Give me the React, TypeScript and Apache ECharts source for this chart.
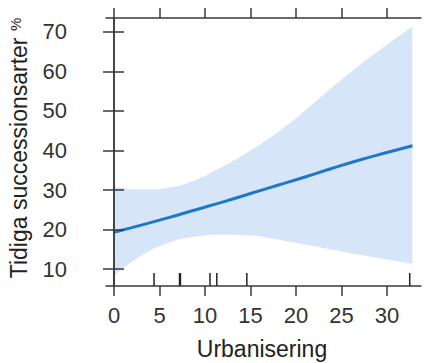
import React, { useEffect, useRef } from "react";
import * as echarts from "echarts";

// Data
const xValues = [0, 3, 6, 9, 12, 15, 18, 21, 24, 27, 30, 32.8];
const fitValues = [19.3, 21.1, 23.0, 25.0, 27.0, 29.1, 31.2, 33.3, 35.5, 37.6, 39.5, 41.2];
const upperValues = [30.9, 30.1, 30.6, 32.6, 36.0, 40.0, 44.6, 50.1, 56.0, 61.6, 66.8, 71.4];
const lowerValues = [8.2, 13.4, 16.6, 18.2, 18.7, 18.5, 17.5, 16.2, 14.9, 13.6, 12.4, 11.3];
const rugValues = [0, 4.4, 7.2, 7.3, 10.55, 11.3, 14.6, 32.5];
const xTicks = [0, 5, 10, 15, 20, 25, 30];
const yTicks = [10, 20, 30, 40, 50, 60, 70];

const X_MIN = -0.88;
const X_MAX = 33.74;
const Y_MIN = 5.7;
const Y_MAX = 73.54;

const FONT = "'Liberation Sans', Arial, Helvetica, sans-serif";
const AXIS_COLOR = "#3a3a3a";
const BAND = "#d6e6f8";
const LINE = "#1f77c9";

export default function App() {
  const ref = useRef<HTMLDivElement>(null);

  useEffect(() => {
    if (!ref.current) return;
    const chart = echarts.init(ref.current, undefined, { renderer: "svg" });

    const lowerData = xValues.map((x, i) => [x, lowerValues[i]]);
    const upperData = xValues.map((x, i) => [x, upperValues[i]]);
    const fitData = xValues.map((x, i) => [x, fitValues[i]]);
    const rugData = rugValues.map((x) => [x]);

    const axisLine = { show: true, lineStyle: { color: AXIS_COLOR, width: 1.5 } };
    const axisTickBase = { show: true, length: 10, lineStyle: { color: AXIS_COLOR, width: 1.5 } };

    chart.setOption({
      animation: false,
      backgroundColor: "#ffffff",
      grid: { left: 106, top: 18, right: 4, bottom: 77 },
      xAxis: [
        {
          type: "value",
          position: "bottom",
          min: X_MIN,
          max: X_MAX,
          z: 10,
          axisLine,
          axisTick: { ...axisTickBase, customValues: xTicks },
          axisLabel: {
            customValues: xTicks,
            color: "#333",
            fontSize: 22,
            fontFamily: FONT,
            margin: 18,
          },
          splitLine: { show: false },
        },
        {
          type: "value",
          position: "top",
          min: X_MIN,
          max: X_MAX,
          z: 10,
          axisLine,
          axisTick: { ...axisTickBase, customValues: xTicks },
          axisLabel: { show: false },
          splitLine: { show: false },
        },
      ],
      yAxis: [
        {
          type: "value",
          position: "left",
          min: Y_MIN,
          max: Y_MAX,
          z: 10,
          axisLine,
          axisTick: { ...axisTickBase, length: 11, customValues: yTicks },
          axisLabel: {
            customValues: yTicks,
            color: "#333",
            fontSize: 22,
            fontFamily: FONT,
            margin: 39,
          },
          splitLine: { show: false },
        },
        {
          type: "value",
          position: "right",
          min: Y_MIN,
          max: Y_MAX,
          z: 10,
          axisLine,
          axisTick: { ...axisTickBase, customValues: yTicks },
          axisLabel: { show: false },
          splitLine: { show: false },
        },
      ],
      graphic: [
        {
          type: "text",
          x: 262,
          y: 349,
          style: {
            text: "Urbanisering",
            fill: "#222",
            font: `23px ${FONT}`,
            textAlign: "center",
            textVerticalAlign: "middle",
          },
        },
        {
          type: "text",
          x: 19,
          y: 148,
          rotation: Math.PI / 2,
          style: {
            text: "Tidiga successionsarter {p|%}",
            fill: "#222",
            font: `23px ${FONT}`,
            textAlign: "center",
            textVerticalAlign: "middle",
            rich: {
              p: { fontSize: 15, fontFamily: FONT, fill: "#222", verticalAlign: "top" },
            },
          },
        },
      ],
      series: [
        {
          name: "upper",
          type: "line",
          data: upperData,
          smooth: 0.5,
          symbol: "none",
          lineStyle: { width: 0, opacity: 0 },
          areaStyle: { color: BAND, opacity: 1, origin: "start" },
          silent: true,
          z: 1,
        },
        {
          name: "lower",
          type: "line",
          data: lowerData,
          smooth: 0.5,
          symbol: "none",
          lineStyle: { width: 0, opacity: 0 },
          areaStyle: { color: "#ffffff", opacity: 1, origin: "start" },
          silent: true,
          z: 2,
        },
        {
          name: "fit",
          type: "line",
          data: fitData,
          smooth: 0.5,
          symbol: "none",
          lineStyle: { color: LINE, width: 3 },
          z: 3,
        },
        {
          name: "rug",
          type: "custom",
          data: rugData,
          encode: { x: 0 },
          clip: false,
          z: 4,
          renderItem: (_params: any, api: any) => {
            const p = api.coord([api.value(0), Y_MIN]);
            return {
              type: "line",
              shape: { x1: p[0], y1: p[1], x2: p[0], y2: p[1] - 13 },
              style: { stroke: "#222", lineWidth: 1.5 },
            };
          },
        },
      ],
    });

    return () => chart.dispose();
  }, []);

  return (
    <div
      ref={ref}
      style={{ position: "fixed", left: 0, top: 0, width: 425, height: 363 }}
    />
  );
}
